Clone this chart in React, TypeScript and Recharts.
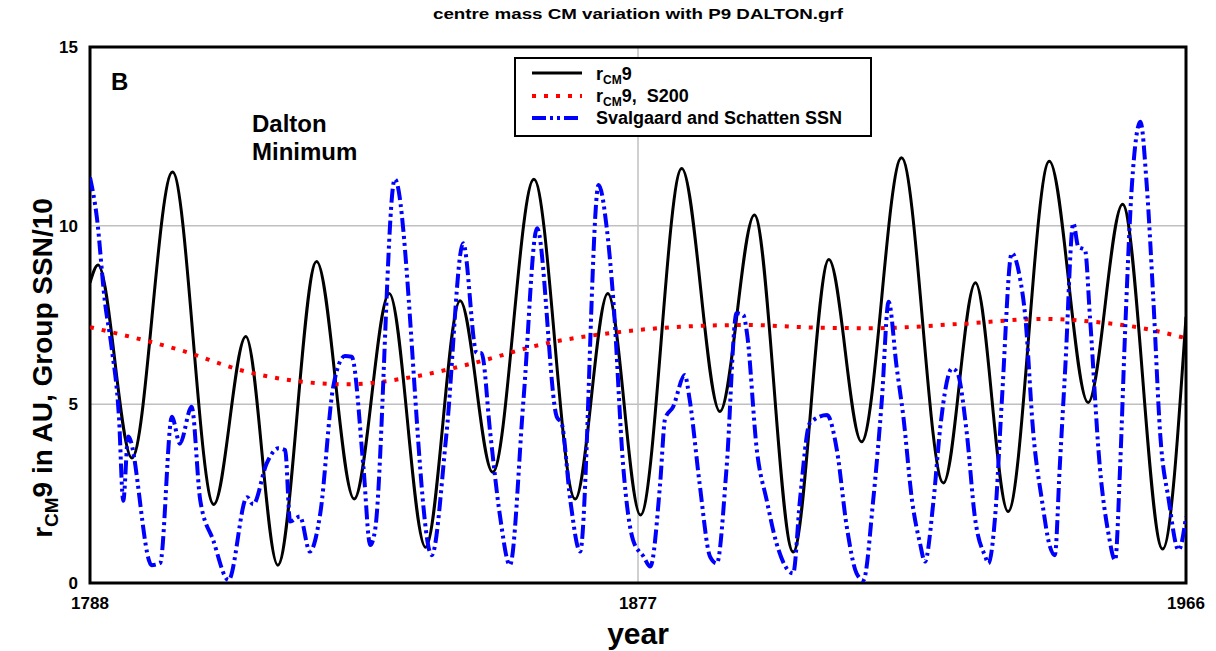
import React from 'react';
import { LineChart, Line, XAxis, YAxis, CartesianGrid, ReferenceArea } from 'recharts';

// r_CM9 (black solid)
const rcm9Years = [1788, 1789.3, 1794.8, 1801.4, 1808.1, 1813.3, 1818.5, 1824.8, 1830.9, 1836.6, 1842.5, 1848.1, 1853.4, 1860.1, 1866.8, 1872.1, 1877.4, 1884.1, 1890.3, 1895.9, 1902.2, 1908.0, 1913.3, 1919.8, 1926.6, 1931.8, 1937.1, 1943.8, 1950.1, 1955.7, 1962.2, 1966];
const rcm9Values = [8.4, 8.9, 3.5, 11.5, 2.2, 6.9, 0.5, 9.0, 2.35, 8.1, 1.0, 7.9, 3.1, 11.3, 2.35, 8.1, 1.9, 11.6, 4.8, 10.3, 0.87, 9.05, 3.95, 11.9, 2.8, 8.4, 2.0, 11.8, 5.05, 10.6, 0.95, 7.45];

// r_CM9, S200 (red dotted)
const s200Years = [1788, 1802.6, 1813.5, 1821.6, 1829.7, 1840.5, 1850.2, 1862.2, 1872.9, 1883.8, 1894.7, 1905.4, 1915.2, 1929.3, 1942.8, 1950.9, 1959.0, 1966];
const s200Values = [7.16, 6.52, 5.91, 5.65, 5.56, 5.77, 6.15, 6.71, 7.0, 7.17, 7.22, 7.15, 7.13, 7.25, 7.39, 7.31, 7.13, 6.85];

// Svalgaard and Schatten SSN / 10 (blue dash-dot-dot)
const ssnYears = [1788, 1789.1, 1790.4, 1791.5, 1792.7, 1793.4, 1794.2, 1798.0, 1799.4, 1801.3, 1802.6, 1804.5, 1805.9, 1808.0, 1810.5, 1813.5, 1814.5, 1816.7, 1818.6, 1819.7, 1820.5, 1822.1, 1823.7, 1825.4, 1827.5, 1829.4, 1830.5, 1832.4, 1833.5, 1834.3, 1837.5, 1843.5, 1845.9, 1848.6, 1850.8, 1851.6, 1853.0, 1854.6, 1856.2, 1858.4, 1860.6, 1863.8, 1864.6, 1866.0, 1867.6, 1870.6, 1871.9, 1873.0, 1874.6, 1876.2, 1877.9, 1879.0, 1880.6, 1881.4, 1882.7, 1884.6, 1885.4, 1887.0, 1888.7, 1889.8, 1891.4, 1893.0, 1894.1, 1894.7, 1896.3, 1897.9, 1899.5, 1902.2, 1903.3, 1904.9, 1907.7, 1909.3, 1910.9, 1912.5, 1913.6, 1915.2, 1916.6, 1917.7, 1919.0, 1920.1, 1921.5, 1922.8, 1923.6, 1925.0, 1926.1, 1928.0, 1928.8, 1930.4, 1931.7, 1933.4, 1933.9, 1935.0, 1936.1, 1937.7, 1939.0, 1939.9, 1941.2, 1942.6, 1943.9, 1944.7, 1945.5, 1946.4, 1947.7, 1948.5, 1949.6, 1950.4, 1952.0, 1953.4, 1954.5, 1955.3, 1956.1, 1957.2, 1958.6, 1959.6, 1960.7, 1961.8, 1963.2, 1964.8, 1966];
const ssnValues = [11.35, 10.25, 7.9, 6.6, 4.65, 2.3, 4.1, 0.5, 0.56, 4.65, 3.9, 4.93, 2.32, 1.2, 0.08, 2.4, 2.2, 3.35, 3.77, 3.72, 1.72, 1.86, 0.88, 1.95, 5.49, 6.35, 6.33, 3.26, 1.06, 1.48, 11.3, 0.78, 4.19, 9.51, 6.44, 6.43, 4.2, 1.86, 0.5, 5.12, 9.93, 4.65, 4.47, 2.32, 0.88, 11.14, 9.97, 7.9, 3.26, 1.2, 0.74, 0.46, 2.79, 4.6, 4.93, 5.82, 5.12, 2.79, 0.74, 0.55, 3.26, 7.55, 7.5, 6.99, 3.72, 2.32, 1.11, 0.27, 2.32, 4.47, 4.7, 3.72, 1.58, 0.27, 0.08, 2.32, 5.12, 7.87, 6.05, 4.65, 2.32, 1.11, 0.6, 2.32, 4.37, 6.0, 5.91, 4.19, 1.86, 0.74, 0.55, 1.86, 5.12, 9.23, 8.57, 7.45, 4.19, 2.32, 1.02, 0.78, 3.26, 6.05, 10.07, 9.41, 9.32, 7.45, 3.26, 1.39, 0.64, 3.26, 6.99, 11.09, 12.91, 11.19, 7.92, 4.19, 2.32, 0.92, 1.85];

const xTicks = [1788, 1877, 1966];
const yTicks = [0, 5, 10, 15];

const rcm9Data = rcm9Years.map((year, i) => ({ year, value: rcm9Values[i] }));
const s200Data = s200Years.map((year, i) => ({ year, value: s200Values[i] }));
const ssnData = ssnYears.map((year, i) => ({ year, value: ssnValues[i] }));

const FONT = '"Liberation Sans", Arial, sans-serif';
const BLUE_DASH = '14 4 3 4 3 4';
const RED_DASH = '4 8';

const LegendBox = () => (
  <div
    style={{
      position: 'absolute',
      left: 514,
      top: 57,
      width: 358,
      height: 80,
      border: '2px solid #000',
      boxSizing: 'border-box',
      background: '#fff',
    }}
  >
    <svg width={358} height={80} style={{ position: 'absolute', left: -2, top: -2 }}>
      <line x1={18} x2={68} y1={16} y2={16} stroke="#000" strokeWidth={3} />
      <line x1={18} x2={68} y1={39} y2={39} stroke="#ff0000" strokeWidth={4} strokeDasharray={RED_DASH} />
      <line x1={18} x2={68} y1={61} y2={61} stroke="#0000ff" strokeWidth={4} strokeDasharray={BLUE_DASH} />
      <text x={82} y={23} fontFamily={FONT} fontWeight="bold" fontSize={18} fill="#000">
        r<tspan fontSize={12} dy={4}>CM</tspan><tspan dy={-4}>9</tspan>
      </text>
      <text x={82} y={45} fontFamily={FONT} fontWeight="bold" fontSize={18} fill="#000">
        r<tspan fontSize={12} dy={4}>CM</tspan><tspan dy={-4}>{'9,\u00a0 S200'}</tspan>
      </text>
      <text x={82} y={67} fontFamily={FONT} fontWeight="bold" fontSize={18} fill="#000">
        Svalgaard and Schatten SSN
      </text>
    </svg>
  </div>
);

export default function App() {
  return (
    <div style={{ position: 'absolute', left: 0, top: 0, width: 1216, height: 651, background: '#fff' }}>
      <LineChart
        width={1216}
        height={651}
        margin={{ top: 47, right: 30, left: 30, bottom: 28 }}
      >
        <CartesianGrid stroke="#c0c0c0" strokeWidth={1.5} horizontalValues={[5, 10]} verticalValues={[1877]} />
        <XAxis
          dataKey="year"
          type="number"
          domain={[1788, 1966]}
          ticks={xTicks}
          allowDataOverflow
          height={40}
          tickSize={0}
          tickMargin={14}
          axisLine={false}
          tick={{ fontFamily: FONT, fontWeight: 'bold', fontSize: 17, fill: '#000' }}
        />
        <YAxis
          type="number"
          domain={[0, 15]}
          ticks={yTicks}
          allowDataOverflow
          width={60}
          tickSize={0}
          tickMargin={12}
          axisLine={false}
          tick={{ fontFamily: FONT, fontWeight: 'bold', fontSize: 17, fill: '#000' }}
        />
        <ReferenceArea x1={1788} x2={1966} y1={0} y2={15} fill="none" stroke="#000" strokeWidth={3} ifOverflow="visible" />
        <Line data={rcm9Data} dataKey="value" type="monotone" stroke="#000" strokeWidth={3} dot={false} isAnimationActive={false} name="rcm9" />
        <Line data={s200Data} dataKey="value" type="monotone" stroke="#ff0000" strokeWidth={4} strokeDasharray={RED_DASH} dot={false} isAnimationActive={false} name="s200" />
        <Line data={ssnData} dataKey="value" type="monotone" stroke="#0000ff" strokeWidth={4} strokeDasharray={BLUE_DASH} dot={false} isAnimationActive={false} name="ssn" />
      </LineChart>
      <LegendBox />
      <svg width={1216} height={651} style={{ position: 'absolute', left: 0, top: 0, pointerEvents: 'none' }}>
        <text x={638} y={19} textAnchor="middle" fontFamily={FONT} fontWeight="bold" fontSize={14} textLength={410} lengthAdjust="spacingAndGlyphs" fill="#000">
          centre mass CM variation with P9 DALTON.grf
        </text>
        <text x={111} y={90} fontFamily={FONT} fontWeight="bold" fontSize={24} fill="#000">B</text>
        <text x={252} y={132} fontFamily={FONT} fontWeight="bold" fontSize={24} fill="#000">Dalton</text>
        <text x={252} y={160} fontFamily={FONT} fontWeight="bold" fontSize={24} fill="#000">Minimum</text>
        <text x={638} y={644} textAnchor="middle" fontFamily={FONT} fontWeight="bold" fontSize={30} fill="#000">year</text>
        <text x={52} y={368} textAnchor="middle" transform="rotate(-90, 52, 368)" fontFamily={FONT} fontWeight="bold" fontSize={28} fill="#000">
          r<tspan fontSize={19} dy={6}>CM</tspan><tspan dy={-6}>9 in AU, Group SSN/10</tspan>
        </text>
      </svg>
    </div>
  );
}
